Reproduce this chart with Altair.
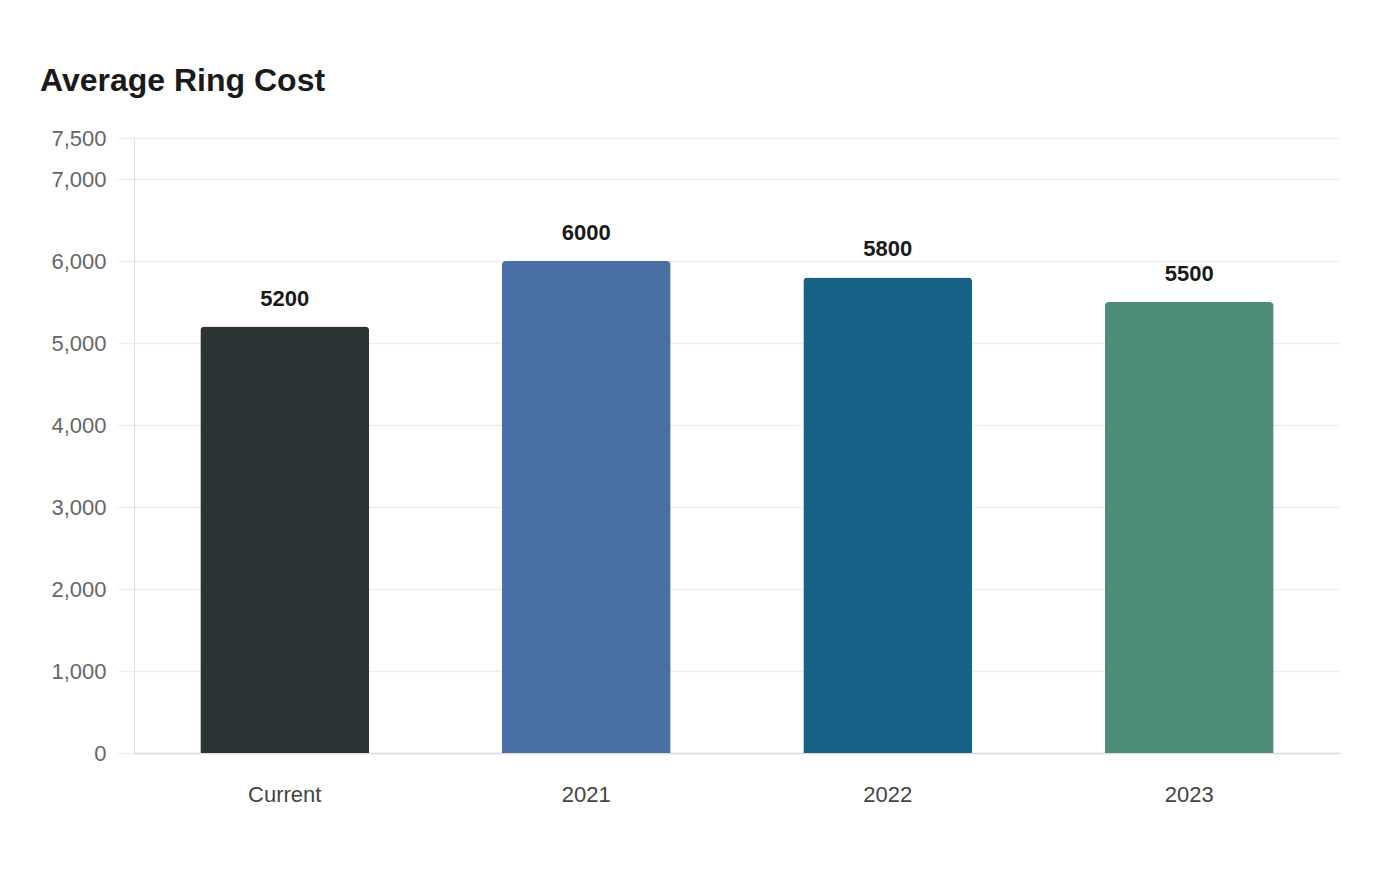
import altair as alt
import pandas as pd

# values
periods = ["Current", "2021", "2022", "2023"]
costs = [5200, 6000, 5800, 5500]
bar_colors = ["#2D3436", "#4A6FA5", "#176187", "#4F8D7B"]
y_ticks = [0, 1000, 2000, 3000, 4000, 5000, 6000, 7000, 7500]

df = pd.DataFrame({"period": periods, "cost": costs})

x_enc = alt.X(
    "period:N",
    sort=periods,
    title=None,
    scale=alt.Scale(paddingInner=0.44, paddingOuter=0.22),
    axis=alt.Axis(
        labelAngle=0,
        labelFontSize=22,
        labelColor="#444444",
        labelPadding=31,
        ticks=False,
        domainColor="#dddddd",
        domainWidth=1.5,
        grid=False,
    ),
)
y_enc = alt.Y(
    "cost:Q",
    title=None,
    scale=alt.Scale(domain=[0, 7500], nice=False),
    axis=alt.Axis(
        values=y_ticks,
        format=",d",
        labelFontSize=22,
        labelColor="#666666",
        labelPadding=12,
        tickSize=16,
        tickColor="#eeeeee",
        tickWidth=1.5,
        domainColor="#dddddd",
        gridColor="#eeeeee",
        gridWidth=1.5,
    ),
)

base = alt.Chart(df).encode(x=x_enc)

bars = base.mark_bar(cornerRadiusTopLeft=4, cornerRadiusTopRight=4).encode(
    y=y_enc,
    color=alt.Color(
        "period:N",
        sort=periods,
        scale=alt.Scale(domain=periods, range=bar_colors),
        legend=None,
    ),
)

labels = base.mark_text(
    baseline="alphabetic", dy=-21, fontSize=22, fontWeight="bold", color="#1a1a1a"
).encode(y="cost:Q", text="cost:Q")

chart = (
    alt.layer(bars, labels)
    .properties(
        width=1206,
        height=615,
        autosize=alt.AutoSizeParams(type="none"),
        padding={"left": 126, "top": 130, "right": 52, "bottom": 60},
        title=alt.TitleParams(
            "Average Ring Cost",
            anchor="start",
            frame="group",
            dx=-94,
            offset=29,
            fontSize=32,
            fontWeight="bold",
            color="#1a1a1a",
        ),
    )
    .configure(font="Liberation Sans")
    .configure_view(strokeWidth=0)
)

chart.save("out.html", embed_options={"renderer": "svg", "actions": False})
